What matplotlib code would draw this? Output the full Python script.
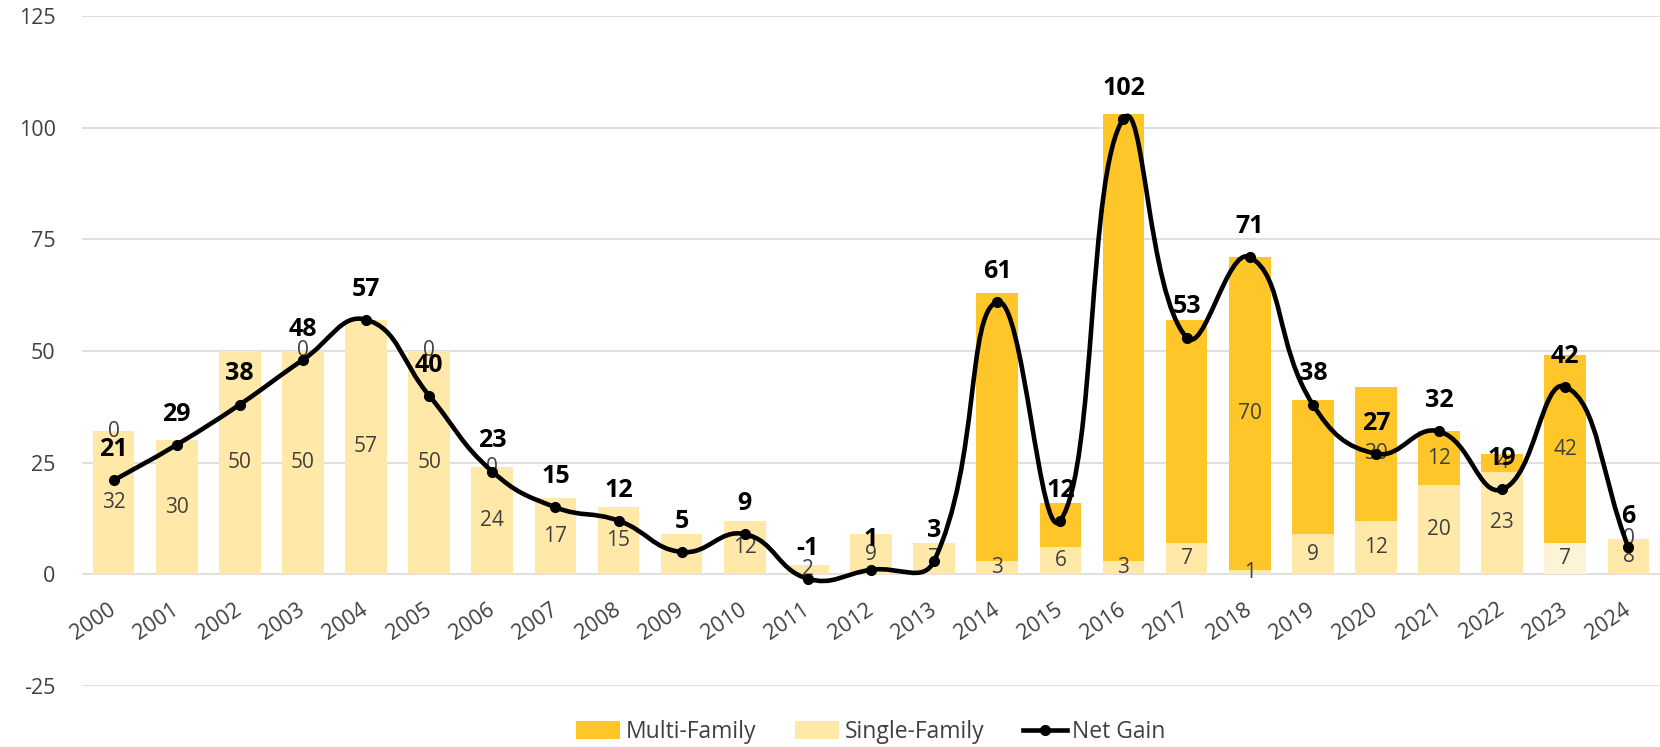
import numpy as np
import matplotlib
matplotlib.use('Agg')
import matplotlib.pyplot as plt
from matplotlib.path import Path
from matplotlib.patches import PathPatch, Patch
from matplotlib.lines import Line2D

years = [str(y) for y in range(2000, 2025)]
single_family = [32, 30, 50, 50, 57, 50, 24, 17, 15, 9, 12, 2, 9, 7, 3, 6, 3, 7, 1, 9, 12, 20, 23, 7, 8]
multi_family = [0, 0, 0, 0, 0, 0, 0, 0, 0, 0, 0, 0, 0, 0, 60, 10, 100, 50, 70, 30, 30, 12, 4, 42, 0]
net_gain = [21, 29, 38, 48, 57, 40, 23, 15, 12, 5, 9, -1, 1, 3, 61, 12, 102, 53, 71, 38, 27, 32, 19, 42, 6]

# which data labels are actually shown in the original
multi_label_years = ['2000', '2003', '2005', '2006', '2018', '2020', '2021', '2022', '2023', '2024']
single_hidden = ['2009']
pale_years = ['2023']

MULTI_C = '#FFC629'
SINGLE_C = '#FFE8A8'
PALE_C = '#FFF3D6'
TXT_C = '#404040'

plt.rcParams['font.family'] = ['Open Sans', 'DejaVu Sans']
plt.rcParams['axes.unicode_minus'] = False


def smooth_path(ax, xs, ys, a=0.45):
    # excel-like smoothed line: bezier segments, control points weighted by segment length
    pts = ax.transData.transform(np.column_stack([xs, ys]))
    n = len(pts)
    verts = [pts[0]]
    codes = [Path.MOVETO]
    for i in range(n - 1):
        p0 = pts[i - 1] if i > 0 else pts[i]
        p1, p2 = pts[i], pts[i + 1]
        p3 = pts[i + 2] if i + 2 < n else pts[i + 1]
        d01 = np.hypot(*(p1 - p0))
        d12 = np.hypot(*(p2 - p1))
        d23 = np.hypot(*(p3 - p2))
        c1 = p1 + (p2 - p0) * a * d12 / (d01 + d12)
        c2 = p2 - (p3 - p1) * a * d12 / (d12 + d23)
        verts += [c1, c2, p2]
        codes += [Path.CURVE4] * 3
    verts = ax.transData.inverted().transform(np.array(verts))
    return Path(verts, codes)


fig = plt.figure(figsize=(16.6, 7.47), dpi=100)
ax = fig.add_axes([0.0494, 0.0817, 0.9506, 0.897])

x = np.arange(len(years))
single_colors = [PALE_C if y in pale_years else SINGLE_C for y in years]
ax.bar(x, single_family, width=0.66, color=single_colors, zorder=2)
ax.bar(x, multi_family, width=0.66, bottom=single_family, color=MULTI_C, zorder=2)

for i, y in enumerate(years):
    s, m = single_family[i], multi_family[i]
    if y not in single_hidden:
        ax.text(i, s / 2, str(s), ha='center', va='center', fontsize=15, color=TXT_C, zorder=3)
    if y in multi_label_years:
        ax.text(i, s + m / 2, str(m), ha='center', va='center', fontsize=15, color=TXT_C, zorder=3)

ax.set_xlim(-0.5, 24.5)
ax.set_ylim(-25, 125)

ax.add_patch(PathPatch(smooth_path(ax, x, net_gain), fill=False, lw=3.3, ec='black',
                       zorder=4, capstyle='round', joinstyle='round'))
ax.plot(x, net_gain, 'o', color='black', ms=7, zorder=5)

for i, v in enumerate(net_gain):
    ax.annotate(str(v), (i, v), xytext=(0, 22), textcoords='offset points', ha='center',
                va='center', fontsize=18, fontweight='bold', color='black', zorder=6)

ax.set_yticks(range(-25, 126, 25))
ax.yaxis.grid(True, color='#D9D9D9', lw=1.2, zorder=0)
ax.set_axisbelow(True)
for sp in ax.spines.values():
    sp.set_visible(False)
ax.spines['bottom'].set_position(('data', 0))

ax.set_xticks(x)
ax.set_xticklabels(years, rotation=34, ha='right', va='center', rotation_mode='anchor')
ax.tick_params(axis='x', length=0, pad=24, labelsize=15.5, labelcolor=TXT_C)
ax.tick_params(axis='y', length=0, pad=19, labelsize=15.5, labelcolor=TXT_C)

handles = [Patch(fc=MULTI_C, label='Multi-Family'),
           Patch(fc=SINGLE_C, label='Single-Family'),
           Line2D([], [], color='black', lw=3.3, marker='o', ms=7, label='Net Gain')]
fig.legend(handles=handles, loc='center', bbox_to_anchor=(0.5247, 0.02), ncol=3, frameon=False,
           fontsize=16.5, handlelength=1.9, handleheight=0.85, handletextpad=0.25,
           columnspacing=1.7, labelcolor=TXT_C)

fig.savefig('out.png', dpi=100)
